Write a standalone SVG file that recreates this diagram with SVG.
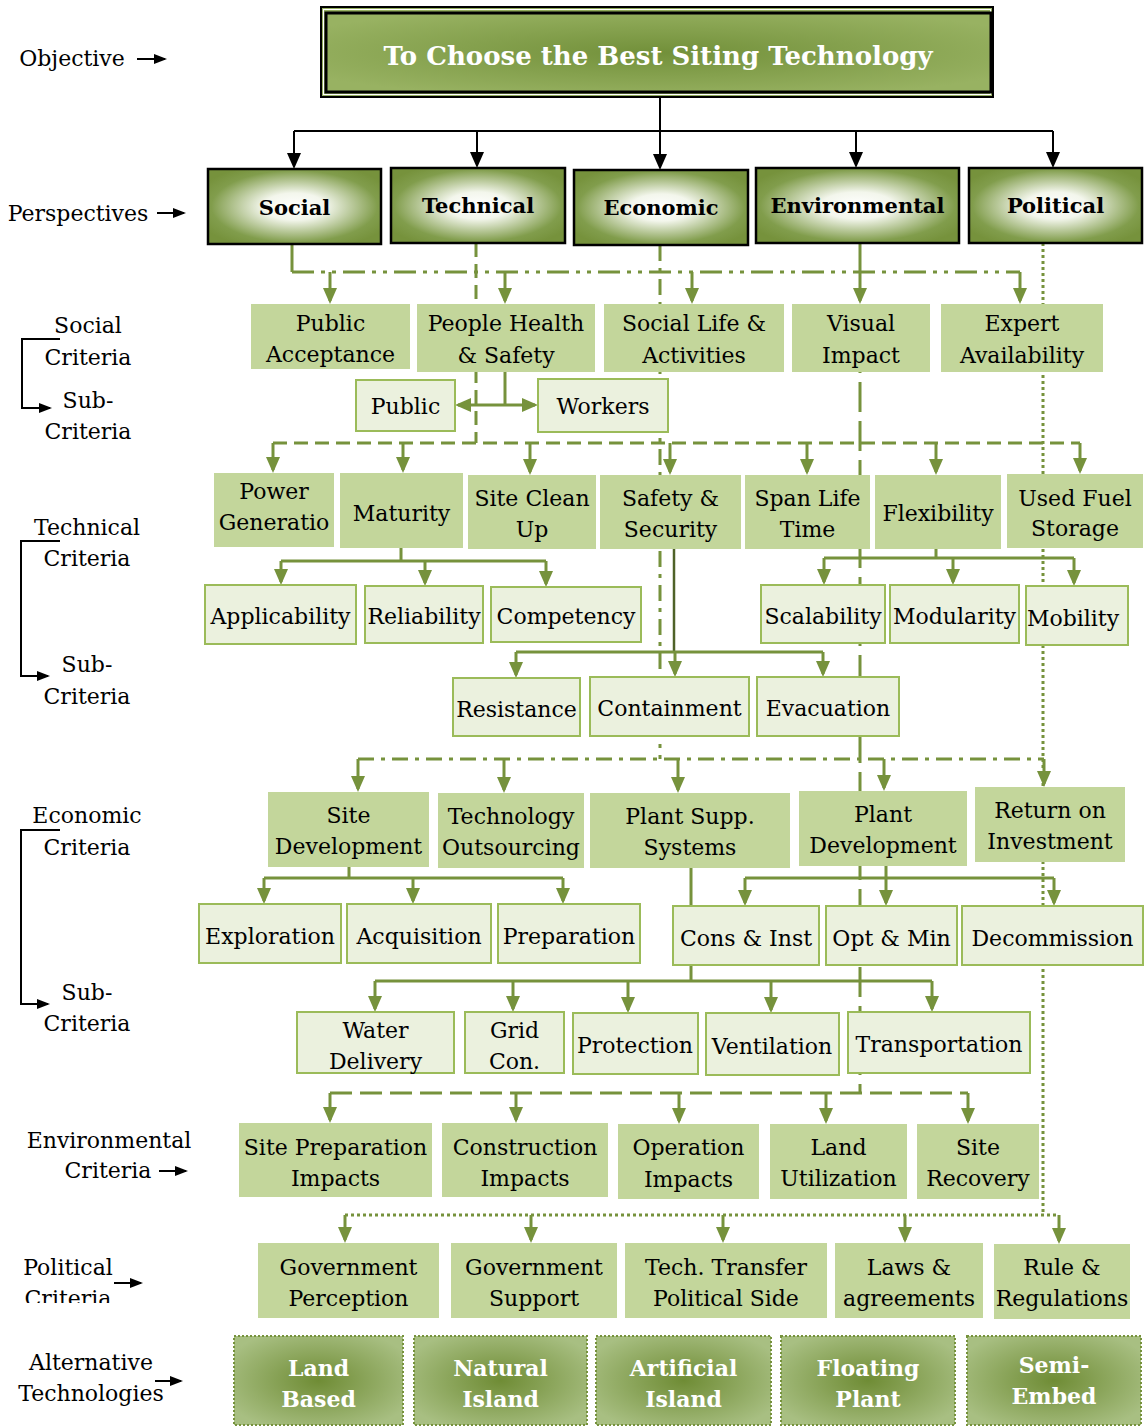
<svg xmlns="http://www.w3.org/2000/svg" width="1145" height="1427" viewBox="0 0 1145 1427">
<defs>
<style>
.n{font-family:"DejaVu Serif",serif;font-size:22px;fill:#000;text-anchor:middle}
.lab{font-family:"DejaVu Serif",serif;font-size:22px;fill:#000;text-anchor:middle}
.pb{font-family:"DejaVu Serif",serif;font-size:21px;font-weight:bold;fill:#000;text-anchor:middle}
.at{font-family:"DejaVu Serif",serif;font-size:22px;font-weight:bold;fill:#fff;text-anchor:middle}
.tt{font-family:"DejaVu Serif",serif;font-size:26px;font-weight:bold;fill:#fff;text-anchor:middle}
.cr{fill:#c3d69b}
.sb{fill:#ebf1de;stroke:#9bbb59;stroke-width:2}
.pr{fill:url(#pg);stroke:#000;stroke-width:2.5}
.al{fill:url(#ag2);stroke:#76923c;stroke-width:2;stroke-dasharray:2 2}
.k{stroke:#000;stroke-width:2;fill:none}
.ka{marker-end:url(#mk)}
.g{stroke:#76923c;stroke-width:3;fill:none}
.ga{marker-end:url(#mg)}
.ddd{stroke-dasharray:22 7 4 7 4 7}
.ds{stroke-dasharray:14 7}
.dd{stroke-dasharray:16 7 4 7}
.ld{stroke-dasharray:30 9}
.ds2{stroke-dasharray:22 8}
.dt{stroke-dasharray:3 3}
.lk{stroke:#000;stroke-width:2;fill:none;marker-end:url(#ms)}
</style>
<radialGradient id="pg" cx="0.5" cy="0.5" r="0.6">
<stop offset="0" stop-color="#ffffff"/>
<stop offset="0.3" stop-color="#f3f6ec"/>
<stop offset="0.8" stop-color="#819d4c"/>
<stop offset="1" stop-color="#76923c"/>
</radialGradient>
<radialGradient id="tg" cx="0.5" cy="0.5" r="0.6">
<stop offset="0" stop-color="#72903a"/>
<stop offset="1" stop-color="#98b262"/>
</radialGradient>
<radialGradient id="ag2" cx="0.5" cy="0.5" r="0.6">
<stop offset="0" stop-color="#6f8c35"/>
<stop offset="1" stop-color="#a8bf82"/>
</radialGradient>
<marker id="mg" viewBox="0 0 16 14" markerWidth="16" markerHeight="14" refX="13" refY="7" orient="auto-start-reverse" markerUnits="userSpaceOnUse"><path d="M0,0 L16,7 L0,14 Z" fill="#76923c"/></marker>
<marker id="mk" viewBox="0 0 16 14" markerWidth="16" markerHeight="14" refX="13" refY="7" orient="auto" markerUnits="userSpaceOnUse"><path d="M0,0 L16,7 L0,14 Z" fill="#000"/></marker>
<marker id="ms" viewBox="0 0 13 10" markerWidth="13" markerHeight="10" refX="11" refY="5" orient="auto" markerUnits="userSpaceOnUse"><path d="M0,0 L13,5 L0,10 Z" fill="#000"/></marker>
<clipPath id="cp"><rect x="0" y="1240" width="220" height="63"/></clipPath>
</defs>
<rect width="1145" height="1427" fill="#fff"/>

<g id="labels">
<text class="lab" x="72" y="66">Objective</text>
<path class="lk" d="M137,59 H165"/>
<text class="lab" x="78" y="221">Perspectives</text>
<path class="lk" d="M157,213 H184"/>
<text class="lab" x="88" y="333">Social</text>
<text class="lab" x="88" y="365">Criteria</text>
<text class="lab" x="88" y="408">Sub-</text>
<text class="lab" x="88" y="439">Criteria</text>
<path class="lk" d="M60,339 H22 V408 H50"/>
<text class="lab" x="87" y="535">Technical</text>
<text class="lab" x="87" y="566">Criteria</text>
<text class="lab" x="87" y="672">Sub-</text>
<text class="lab" x="87" y="704">Criteria</text>
<path class="lk" d="M60,541 H21 V676 H48"/>
<text class="lab" x="87" y="823">Economic</text>
<text class="lab" x="87" y="855">Criteria</text>
<text class="lab" x="87" y="1000">Sub-</text>
<text class="lab" x="87" y="1031">Criteria</text>
<path class="lk" d="M60,830 H21 V1004 H48"/>
<text class="lab" x="109" y="1148">Environmental</text>
<text class="lab" x="108" y="1178">Criteria</text>
<path class="lk" d="M159,1171 H186"/>
<text class="lab" x="68" y="1275">Political</text>
<text class="lab" x="68" y="1306" clip-path="url(#cp)">Criteria</text>
<path class="lk" d="M114,1283 H141"/>
<text class="lab" x="91" y="1370">Alternative</text>
<text class="lab" x="91" y="1401">Technologies</text>
<path class="lk" d="M155,1381 H181"/>
</g>

<g id="connectors">
<path class="k" d="M294,131 H1053"/>
<path class="k ka" d="M294,131 V166"/>
<path class="k ka" d="M477,131 V165"/>
<path class="k ka" d="M660,97 V167"/>
<path class="k ka" d="M856,131 V165"/>
<path class="k ka" d="M1053,131 V165"/>

<path class="g" d="M292,244 V272"/>
<path class="g ddd" d="M292,272 H1020"/>
<path class="g ga" d="M330,272 V301"/>
<path class="g ga" d="M505,272 V301"/>
<path class="g ga" d="M692,272 V301"/>
<path class="g ga" d="M1020,272 V301"/>
<path class="g ga" d="M860,243 V301"/>
<path class="g ld" d="M860,304 V1093"/>

<path class="g ds" d="M476,243 V443"/>
<path class="g ds" d="M273,443 H1080"/>
<path class="g ga" d="M273,443 V470"/>
<path class="g ga" d="M403,443 V470"/>
<path class="g ga" d="M530,443 V472"/>
<path class="g ga" d="M670,443 V472"/>
<path class="g ga" d="M807,443 V472"/>
<path class="g ga" d="M936,443 V472"/>
<path class="g ga" d="M1080,443 V471"/>

<path class="g dd" d="M660,245 V759"/>
<path class="g dd" d="M358,759 H1044"/>
<path class="g ga" d="M358,759 V789"/>
<path class="g ga" d="M504,759 V790"/>
<path class="g ga" d="M678,759 V790"/>
<path class="g ga" d="M884,759 V788"/>
<path class="g ga" d="M1044,759 V784"/>

<path class="g ds2" d="M330,1093 H968"/>
<path class="g ga" d="M330,1093 V1120"/>
<path class="g ga" d="M516,1093 V1120"/>
<path class="g ga" d="M679,1093 V1121"/>
<path class="g ga" d="M826,1093 V1121"/>
<path class="g ga" d="M968,1093 V1121"/>

<path class="g dt" d="M1043,243 V1215"/>
<path class="g dt" d="M345,1215 H1059"/>
<path class="g ga" d="M345,1215 V1240"/>
<path class="g ga" d="M531,1215 V1240"/>
<path class="g ga" d="M723,1215 V1240"/>
<path class="g ga" d="M905,1215 V1240"/>
<path class="g ga" d="M1059,1215 V1241"/>

<path class="g" d="M505,372 V405"/>
<path class="g" d="M458,405 H535" marker-start="url(#mg)" marker-end="url(#mg)"/>

<path class="g" d="M401,548 V561 M281,561 H546"/>
<path class="g ga" d="M281,561 V582"/>
<path class="g ga" d="M425,561 V583"/>
<path class="g ga" d="M546,561 V584"/>

<path class="g" d="M936,549 V558 M824,558 H1074"/>
<path class="g ga" d="M824,558 V582"/>
<path class="g ga" d="M953,558 V582"/>
<path class="g ga" d="M1074,558 V583"/>

<path d="M674,549 V652" stroke="#4f6228" stroke-width="2.5" fill="none"/>
<path class="g" d="M516,652 H823"/>
<path class="g ga" d="M516,652 V675"/>
<path class="g ga" d="M675,652 V674"/>
<path class="g ga" d="M823,652 V674"/>

<path class="g" d="M349,867 V878 M264,878 H563"/>
<path class="g ga" d="M264,878 V901"/>
<path class="g ga" d="M413,878 V901"/>
<path class="g ga" d="M563,878 V901"/>

<path class="g" d="M886,866 V878 M745,878 H1054"/>
<path class="g ga" d="M745,878 V903"/>
<path class="g ga" d="M886,878 V903"/>
<path class="g ga" d="M1054,878 V903"/>

<path class="g" d="M691,868 V981 M375,981 H932"/>
<path class="g ga" d="M375,981 V1009"/>
<path class="g ga" d="M513,981 V1009"/>
<path class="g ga" d="M628,981 V1010"/>
<path class="g ga" d="M771,981 V1010"/>
<path class="g ga" d="M932,981 V1009"/>
</g>

<g id="objective">
<rect x="321" y="7" width="672" height="90" fill="url(#tg)" stroke="#000" stroke-width="2"/>
<rect x="323.5" y="9.5" width="667" height="85" fill="none" stroke="#fff" stroke-width="1"/>
<rect x="326" y="13" width="665" height="79" fill="url(#tg)" stroke="#000" stroke-width="3"/>
<text class="tt" x="658" y="65">To Choose the Best Siting Technology</text>
</g>

<g id="p-social"><rect class="pr" x="208" y="169" width="173" height="75"/><text class="pb" x="294.5" y="215">Social</text></g>
<g id="p-technical"><rect class="pr" x="391" y="168" width="174" height="75"/><text class="pb" x="478" y="213">Technical</text></g>
<g id="p-economic"><rect class="pr" x="574" y="170" width="174" height="75"/><text class="pb" x="661" y="215">Economic</text></g>
<g id="p-environmental"><rect class="pr" x="756" y="168" width="203" height="75"/><text class="pb" x="857.5" y="213">Environmental</text></g>
<g id="p-political"><rect class="pr" x="969" y="168" width="173" height="75"/><text class="pb" x="1055.5" y="213">Political</text></g>

<g id="sc-public-acceptance"><rect class="cr" x="251" y="304" width="159" height="65"/><text class="n" x="330.5" y="331">Public</text><text class="n" x="330.5" y="362">Acceptance</text></g>
<g id="sc-people-health"><rect class="cr" x="417" y="304" width="178" height="68"/><text class="n" x="506" y="331">People Health</text><text class="n" x="506" y="363">&amp; Safety</text></g>
<g id="sc-social-life"><rect class="cr" x="604" y="304" width="180" height="68"/><text class="n" x="694" y="331">Social Life &amp;</text><text class="n" x="694" y="363">Activities</text></g>
<g id="sc-visual-impact"><rect class="cr" x="792" y="304" width="138" height="68"/><text class="n" x="861" y="331">Visual</text><text class="n" x="861" y="363">Impact</text></g>
<g id="sc-expert"><rect class="cr" x="941" y="304" width="162" height="68"/><text class="n" x="1022" y="331">Expert</text><text class="n" x="1022" y="363">Availability</text></g>

<g id="ss-public"><rect class="sb" x="356" y="380" width="99" height="51"/><text class="n" x="405.5" y="414">Public</text></g>
<g id="ss-workers"><rect class="sb" x="538" y="379" width="130" height="53"/><text class="n" x="603" y="414">Workers</text></g>

<g id="tc-power"><rect class="cr" x="214" y="473" width="120" height="74"/><text class="n" x="274" y="499">Power</text><text class="n" x="274" y="530">Generatio</text></g>
<g id="tc-maturity"><rect class="cr" x="340" y="473" width="123" height="75"/><text class="n" x="401.5" y="521">Maturity</text></g>
<g id="tc-site-clean"><rect class="cr" x="468" y="475" width="128" height="74"/><text class="n" x="532" y="506">Site Clean</text><text class="n" x="532" y="537">Up</text></g>
<g id="tc-safety"><rect class="cr" x="600" y="475" width="141" height="74"/><text class="n" x="670.5" y="506">Safety &amp;</text><text class="n" x="670.5" y="537">Security</text></g>
<g id="tc-span"><rect class="cr" x="745" y="475" width="125" height="74"/><text class="n" x="807.5" y="506">Span Life</text><text class="n" x="807.5" y="537">Time</text></g>
<g id="tc-flex"><rect class="cr" x="875" y="475" width="126" height="74"/><text class="n" x="938" y="521">Flexibility</text></g>
<g id="tc-fuel"><rect class="cr" x="1007" y="474" width="136" height="74"/><text class="n" x="1075" y="506">Used Fuel</text><text class="n" x="1075" y="536">Storage</text></g>

<g id="ts-applicability"><rect class="sb" x="205" y="585" width="151" height="59"/><text class="n" x="280.5" y="624">Applicability</text></g>
<g id="ts-reliability"><rect class="sb" x="365" y="586" width="118" height="57"/><text class="n" x="424" y="624">Reliability</text></g>
<g id="ts-competency"><rect class="sb" x="491" y="587" width="150" height="55"/><text class="n" x="566" y="624">Competency</text></g>
<g id="ts-scalability"><rect class="sb" x="761" y="585" width="124" height="58"/><text class="n" x="823" y="624">Scalability</text></g>
<g id="ts-modularity"><rect class="sb" x="890" y="585" width="129" height="58"/><text class="n" x="954.5" y="624">Modularity</text></g>
<g id="ts-mobility"><rect class="sb" x="1026" y="586" width="102" height="59"/><text class="n" x="1073" y="626">Mobility</text></g>

<g id="ts-resistance"><rect class="sb" x="453" y="678" width="127" height="58"/><text class="n" x="516.5" y="717">Resistance</text></g>
<g id="ts-containment"><rect class="sb" x="590" y="677" width="159" height="59"/><text class="n" x="669.5" y="716">Containment</text></g>
<g id="ts-evacuation"><rect class="sb" x="757" y="677" width="142" height="59"/><text class="n" x="828" y="716">Evacuation</text></g>

<g id="ec-site-dev"><rect class="cr" x="268" y="792" width="161" height="75"/><text class="n" x="348.5" y="823">Site</text><text class="n" x="348.5" y="854">Development</text></g>
<g id="ec-tech-out"><rect class="cr" x="438" y="793" width="146" height="75"/><text class="n" x="511" y="824">Technology</text><text class="n" x="511" y="855">Outsourcing</text></g>
<g id="ec-plant-supp"><rect class="cr" x="590" y="793" width="200" height="75"/><text class="n" x="690" y="824">Plant Supp.</text><text class="n" x="690" y="855">Systems</text></g>
<g id="ec-plant-dev"><rect class="cr" x="799" y="791" width="168" height="75"/><text class="n" x="883" y="822">Plant</text><text class="n" x="883" y="853">Development</text></g>
<g id="ec-roi"><rect class="cr" x="975" y="787" width="150" height="75"/><text class="n" x="1050" y="818">Return on</text><text class="n" x="1050" y="849">Investment</text></g>

<g id="es-exploration"><rect class="sb" x="199" y="904" width="142" height="59"/><text class="n" x="270" y="944">Exploration</text></g>
<g id="es-acquisition"><rect class="sb" x="347" y="904" width="144" height="59"/><text class="n" x="419" y="944">Acquisition</text></g>
<g id="es-preparation"><rect class="sb" x="498" y="904" width="142" height="59"/><text class="n" x="569" y="944">Preparation</text></g>
<g id="es-cons"><rect class="sb" x="673" y="906" width="146" height="59"/><text class="n" x="746" y="946">Cons &amp; Inst</text></g>
<g id="es-opt"><rect class="sb" x="826" y="906" width="131" height="59"/><text class="n" x="891.5" y="946">Opt &amp; Min</text></g>
<g id="es-decom"><rect class="sb" x="962" y="906" width="181" height="59"/><text class="n" x="1052.5" y="946">Decommission</text></g>

<g id="es-water"><rect class="sb" x="297" y="1012" width="157" height="61"/><text class="n" x="375.5" y="1038">Water</text><text class="n" x="375.5" y="1069">Delivery</text></g>
<g id="es-grid"><rect class="sb" x="465" y="1012" width="99" height="61"/><text class="n" x="514.5" y="1038">Grid</text><text class="n" x="514.5" y="1069">Con.</text></g>
<g id="es-protection"><rect class="sb" x="573" y="1013" width="125" height="61"/><text class="n" x="635" y="1053">Protection</text></g>
<g id="es-ventilation"><rect class="sb" x="706" y="1013" width="133" height="62"/><text class="n" x="772" y="1054">Ventilation</text></g>
<g id="es-transport"><rect class="sb" x="848" y="1012" width="182" height="61"/><text class="n" x="939" y="1052">Transportation</text></g>

<g id="en-site-prep"><rect class="cr" x="239" y="1123" width="193" height="74"/><text class="n" x="335.5" y="1155">Site Preparation</text><text class="n" x="335.5" y="1186">Impacts</text></g>
<g id="en-construction"><rect class="cr" x="442" y="1123" width="166" height="74"/><text class="n" x="525" y="1155">Construction</text><text class="n" x="525" y="1186">Impacts</text></g>
<g id="en-operation"><rect class="cr" x="618" y="1124" width="141" height="75"/><text class="n" x="688.5" y="1155">Operation</text><text class="n" x="688.5" y="1187">Impacts</text></g>
<g id="en-land"><rect class="cr" x="770" y="1124" width="137" height="75"/><text class="n" x="838.5" y="1155">Land</text><text class="n" x="838.5" y="1186">Utilization</text></g>
<g id="en-recovery"><rect class="cr" x="917" y="1124" width="122" height="75"/><text class="n" x="978" y="1155">Site</text><text class="n" x="978" y="1186">Recovery</text></g>

<g id="po-perception"><rect class="cr" x="258" y="1243" width="181" height="75"/><text class="n" x="348.5" y="1275">Government</text><text class="n" x="348.5" y="1306">Perception</text></g>
<g id="po-support"><rect class="cr" x="451" y="1243" width="166" height="75"/><text class="n" x="534" y="1275">Government</text><text class="n" x="534" y="1306">Support</text></g>
<g id="po-transfer"><rect class="cr" x="625" y="1243" width="202" height="75"/><text class="n" x="726" y="1275">Tech. Transfer</text><text class="n" x="726" y="1306">Political Side</text></g>
<g id="po-laws"><rect class="cr" x="835" y="1243" width="148" height="75"/><text class="n" x="909" y="1275">Laws &amp;</text><text class="n" x="909" y="1306">agreements</text></g>
<g id="po-rules"><rect class="cr" x="994" y="1244" width="136" height="75"/><text class="n" x="1062" y="1275">Rule &amp;</text><text class="n" x="1062" y="1306">Regulations</text></g>

<g id="alt-land"><rect class="al" x="234" y="1336" width="169" height="89"/><text class="at" x="318.5" y="1376">Land</text><text class="at" x="318.5" y="1407">Based</text></g>
<g id="alt-natural"><rect class="al" x="414" y="1336" width="173" height="89"/><text class="at" x="500.5" y="1376">Natural</text><text class="at" x="500.5" y="1407">Island</text></g>
<g id="alt-artificial"><rect class="al" x="596" y="1336" width="175" height="89"/><text class="at" x="683.5" y="1376">Artificial</text><text class="at" x="683.5" y="1407">Island</text></g>
<g id="alt-floating"><rect class="al" x="781" y="1336" width="174" height="89"/><text class="at" x="868" y="1376">Floating</text><text class="at" x="868" y="1407">Plant</text></g>
<g id="alt-semi"><rect class="al" x="967" y="1336" width="174" height="89"/><text class="at" x="1054" y="1373">Semi-</text><text class="at" x="1054" y="1404">Embed</text></g>
</svg>
